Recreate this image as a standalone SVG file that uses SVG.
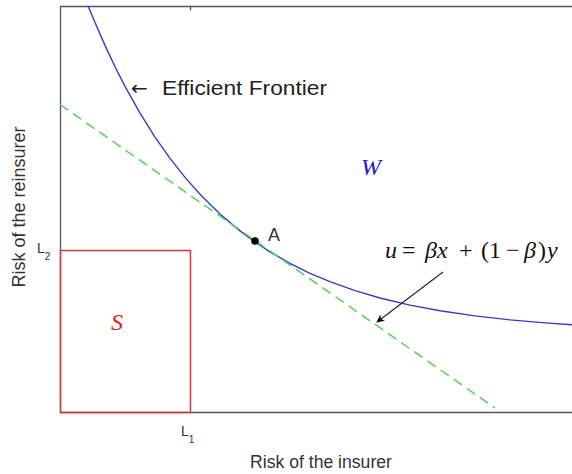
<svg xmlns="http://www.w3.org/2000/svg" width="572" height="474" viewBox="0 0 572 474">
<defs>
<style>
.axis{stroke:#555;stroke-width:1.3;fill:none}
.lbl{font-family:"Liberation Sans",Arial,sans-serif;fill:#333}
.math{font-family:"Liberation Serif","Times New Roman",serif}
.it{font-style:italic}
</style>
<marker id="ah" viewBox="0 0 10 10" refX="9" refY="5" markerWidth="8" markerHeight="8" orient="auto" markerUnits="userSpaceOnUse">
<path d="M0,0 L10,5 L0,10 L3,5 Z" fill="#000"/>
</marker>
</defs>
<rect width="572" height="474" fill="#fff"/>
<g id="axes">
<path class="axis" d="M572,6.5 H60.5 V412.5 H572"/>
<path class="axis" d="M190.5,6.5 V10.5"/>
</g>
<g id="labels">
<text class="lbl" x="321" y="468" font-size="17.6" text-anchor="middle">Risk of the insurer</text>
<text class="lbl" transform="translate(25,207) rotate(-90)" font-size="18" text-anchor="middle">Risk of the reinsurer</text>
<text class="lbl" x="37" y="253" font-size="14">L<tspan font-size="10" dy="7">2</tspan></text>
<text class="lbl" x="181" y="436" font-size="14">L<tspan font-size="10" dy="7">1</tspan></text>
</g>
<g id="region-S">
<rect x="60.5" y="250.5" width="130" height="162" fill="none" stroke="#d23a3a" stroke-width="1.5"/>
<text class="math it" x="111" y="330" font-size="24" fill="#e02020">S</text>
</g>
<g id="region-W">
<text class="math it" x="361" y="175" font-size="24" fill="#2020d0">W</text>
</g>
<g id="frontier">
<polyline fill="none" stroke="#3838d8" stroke-width="1.4" stroke-linejoin="round" points="88,6 95,22.5 105,45.4 115,66.7 125,86.4 140,113.2 155,137.1 170,158.4 185,177.4 200,194.3 220,214 240,230.9 255,242 270,251.9 290,263.4 310,273.3 330,281.7 355,290.6 380,298 410,305.1 440,310.8 475,315.9 510,319.9 545,322.9 572,324.7"/>
<text x="131" y="95" font-size="20" fill="#222" font-family="DejaVu Sans,sans-serif">←</text>
<text x="162" y="95" font-size="21" fill="#222" font-family="Liberation Sans,Arial,sans-serif" textLength="165" lengthAdjust="spacingAndGlyphs">Efficient Frontier</text>
</g>
<g id="connectors">
<line x1="60" y1="104.5" x2="495" y2="408" stroke="#4cd84c" stroke-width="1.5" stroke-dasharray="10,6"/>
<line x1="443" y1="272" x2="377" y2="322" stroke="#222" stroke-width="1.1" marker-end="url(#ah)"/>
</g>
<g id="point-A">
<circle cx="255" cy="241" r="3.8" fill="#000"/>
<text class="lbl" x="268" y="241" font-size="18" fill="#111">A</text>
</g>
<g id="formula">
<text class="math" y="258" font-size="24" fill="#111"><tspan class="it" x="385">u</tspan><tspan x="402">=</tspan><tspan class="it" x="425">βx</tspan><tspan x="459">+</tspan><tspan x="481">(1</tspan><tspan x="506">−</tspan><tspan class="it" x="524">β</tspan><tspan x="538">)</tspan><tspan class="it" x="547">y</tspan></text>
</g>
</svg>
